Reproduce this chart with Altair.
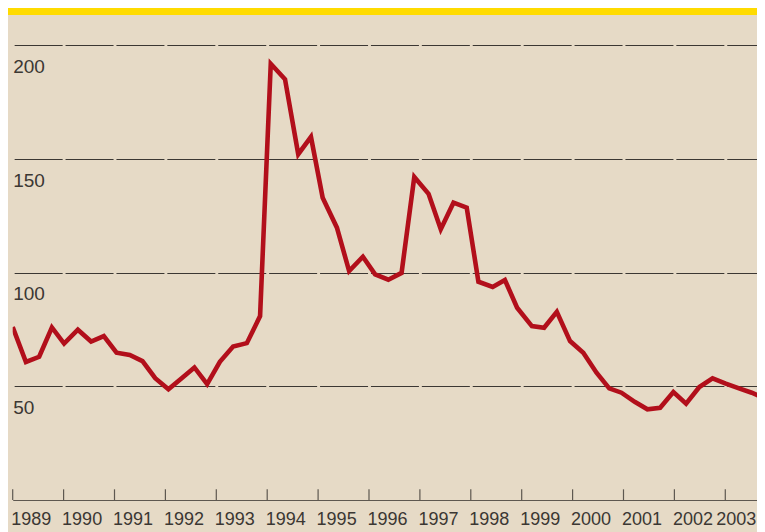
import altair as alt
import pandas as pd

# decimal-year positions of each data point
dates = [1989.00, 1989.26, 1989.52, 1989.77, 1990.01, 1990.28, 1990.54, 1990.79,
         1991.04, 1991.30, 1991.55, 1991.80, 1992.06, 1992.32, 1992.57, 1992.82,
         1993.07, 1993.33, 1993.60, 1993.86, 1994.07, 1994.35, 1994.61, 1994.86,
         1995.09, 1995.37, 1995.61, 1995.88, 1996.12, 1996.38, 1996.64, 1996.89,
         1997.17, 1997.41, 1997.66, 1997.92, 1998.15, 1998.43, 1998.67, 1998.91,
         1999.20, 1999.44, 1999.69, 1999.95, 2000.21, 2000.47, 2000.72, 2000.96,
         2001.22, 2001.47, 2001.72, 2001.98, 2002.23, 2002.49, 2002.75, 2003.01,
         2003.27, 2003.52, 2003.72]

values = [76.1, 60.7, 63.0, 75.9, 68.8, 74.9, 69.7, 72.1,
          64.8, 63.8, 61.1, 53.6, 48.7, 53.6, 58.3, 51.0,
          60.8, 67.5, 69.0, 80.9, 191.9, 185.1, 152.1, 159.7,
          133.0, 119.8, 100.7, 107.0, 99.3, 96.9, 99.9, 142.1,
          134.7, 119.1, 130.8, 128.6, 96.0, 93.7, 96.8, 84.6,
          76.5, 75.8, 82.8, 69.9, 64.8, 56.0, 49.1, 47.2,
          43.2, 39.9, 40.6, 47.5, 42.4, 49.7, 53.5, 51.2,
          49.1, 47.2, 45.3]

tick_years = list(range(1989, 2004))
y_ticks = [50, 100, 150, 200]

df = pd.DataFrame({"date": dates, "value": values})
ticks_df = pd.DataFrame({"date": tick_years})
bar_df = pd.DataFrame({"a": [0]})

BG = "#e6dac6"
INK = "#3b3733"
AXIS = "#5e5850"
RED = "#b20f1b"
FONT = "Liberation Sans"

x_scale = alt.Scale(domain=[1989, 2003.623], nice=False, zero=False)
y_scale = alt.Scale(domain=[0, 213.35], nice=False, zero=False)

x_axis = alt.Axis(
    values=tick_years, format="d", title=None, grid=False,
    domain=True, domainColor=AXIS, domainWidth=1.2,
    ticks=False, labelAlign="left",
    labelOffset={"expr": "datum.value == 2003 ? -9.5 : -2"},
    labelPadding=10,
    labelFontSize=18, labelFont=FONT, labelColor=INK,
    labelFlush=False, labelOverlap=False, labelBound=False,
)

yellow = alt.Chart(bar_df).mark_rect(color="#ffdb00").encode(
    x=alt.value(-5), x2=alt.value(744.3), y=alt.value(-7), y2=alt.value(0)
)

ticks = alt.Chart(ticks_df).mark_rule(color=AXIS, strokeWidth=1.2).encode(
    x=alt.X("date:Q", scale=x_scale, axis=x_axis),
    y=alt.datum(0),
    y2=alt.datum(4.7),
)

line = alt.Chart(df).mark_line(
    color=RED, strokeWidth=4.6, strokeJoin="miter", strokeCap="butt", clip=True
).encode(
    x=alt.X("date:Q", scale=x_scale, axis=x_axis),
    y=alt.Y(
        "value:Q",
        scale=y_scale,
        axis=alt.Axis(
            values=y_ticks, title=None, domain=False, ticks=False, tickSize=0,
            grid=True, gridColor=INK, gridWidth=1, gridDash=[48, 2.9],
            gridDashOffset=49.45,
            labelAlign="left", labelBaseline="alphabetic", labelPadding=0,
            labelOffset=27.3, labelFontSize=19, labelFont=FONT, labelColor=INK,
            labelFlush=False, labelOverlap=False, labelBound=False,
        ),
    ),
)

chart = alt.layer(yellow, ticks, line).properties(
    width=744.3,
    height=485,
    padding={"left": 4.7, "top": 7, "right": 0, "bottom": 32},
    autosize=alt.AutoSizeParams(type="none"),
    background=BG,
).configure_view(stroke=None)

chart.save("out.html", embed_options={"renderer": "svg", "actions": False})
